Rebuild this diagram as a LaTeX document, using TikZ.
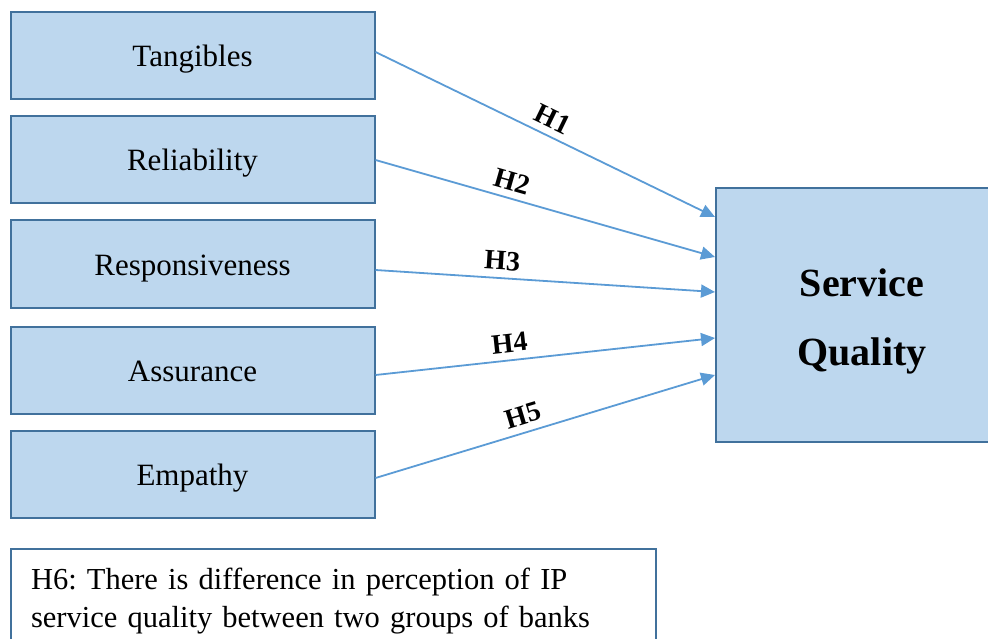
\documentclass[tikz,border=0pt]{standalone}
\usepackage{fontspec}
\setmainfont{Liberation Serif}
\usetikzlibrary{arrows.meta}
\newcommand{\BoxFont}{\fontsize{31}{37}\selectfont}
\newcommand{\LabelFont}{\fontsize{28}{32}\bfseries\selectfont}
\definecolor{boxfill}{HTML}{BDD7EE}
\definecolor{boxline}{HTML}{41719C}
\definecolor{arrowblue}{HTML}{5B9BD5}
\newcommand{\Factor}[3]{%
  \node[factor] (#1) at (192.5,#2) {#3};
}

\begin{document}
\frenchspacing
\begin{tikzpicture}[x=1pt,y=-1pt,text=black,
  factor/.style={draw=boxline,fill=boxfill,line width=2pt,minimum width=364pt,minimum height=87pt,inner sep=0pt,text height=25pt,text depth=3pt,font=\BoxFont},
  outcome/.style={draw=boxline,fill=boxfill,line width=2pt,minimum width=292pt,minimum height=254pt,font=\fontsize{40}{69}\bfseries\selectfont},
  hyp/.style={draw=arrowblue,line width=1.8pt,-{Triangle[length=14pt,width=13pt]}},
  hlabel/.style={sloped,above,inner sep=7pt,font=\LabelFont}]
  \useasboundingbox (0,0) rectangle (988,639);
  \Factor{tang}{56}{Tangibles}
  \Factor{reli}{160}{Reliability}
  \Factor{resp}{264}{Responsiveness}
  \Factor{assu}{370}{Assurance}
  \Factor{empa}{474}{Empathy}
  \node[outcome] (sq) at (862,315)
    {\raisebox{-2pt}[\height][\depth]{\begin{tabular}{@{}c@{}}Service\\Quality\end{tabular}}};
  % arrow ends on the left side of the outcome box
  \coordinate (e1) at ([yshift=98pt]sq.west);
  \coordinate (e2) at ([yshift=58pt]sq.west);
  \coordinate (e3) at ([yshift=23pt]sq.west);
  \coordinate (e4) at ([yshift=-23pt]sq.west);
  \coordinate (e5) at ([yshift=-60pt]sq.west);
  \draw[hyp] ([yshift=4pt]tang.east) -- (e1) node[hlabel,pos=.50] {H1};
  \draw[hyp] (reli.east) -- (e2) node[hlabel,pos=.39] {H2};
  \draw[hyp] ([yshift=-6pt]resp.east) -- (e3) node[hlabel,pos=.37] {H3};
  \draw[hyp] ([yshift=-5pt]assu.east) -- (e4) node[hlabel,pos=.40] {H4};
  \draw[hyp] ([yshift=-4pt]empa.east) -- (e5) node[hlabel,pos=.45] {H5};
  \node[draw=boxline,line width=2pt,minimum width=645pt,minimum height=104pt,
    text width=605pt,align=left,inner xsep=20pt,anchor=north west,
    font=\fontsize{30.5}{38}\selectfont] (h6) at (10,548)
    {H6: There is difference in perception of IP\\service quality between two groups of banks\\[-0.3em]};
\end{tikzpicture}
\end{document}
